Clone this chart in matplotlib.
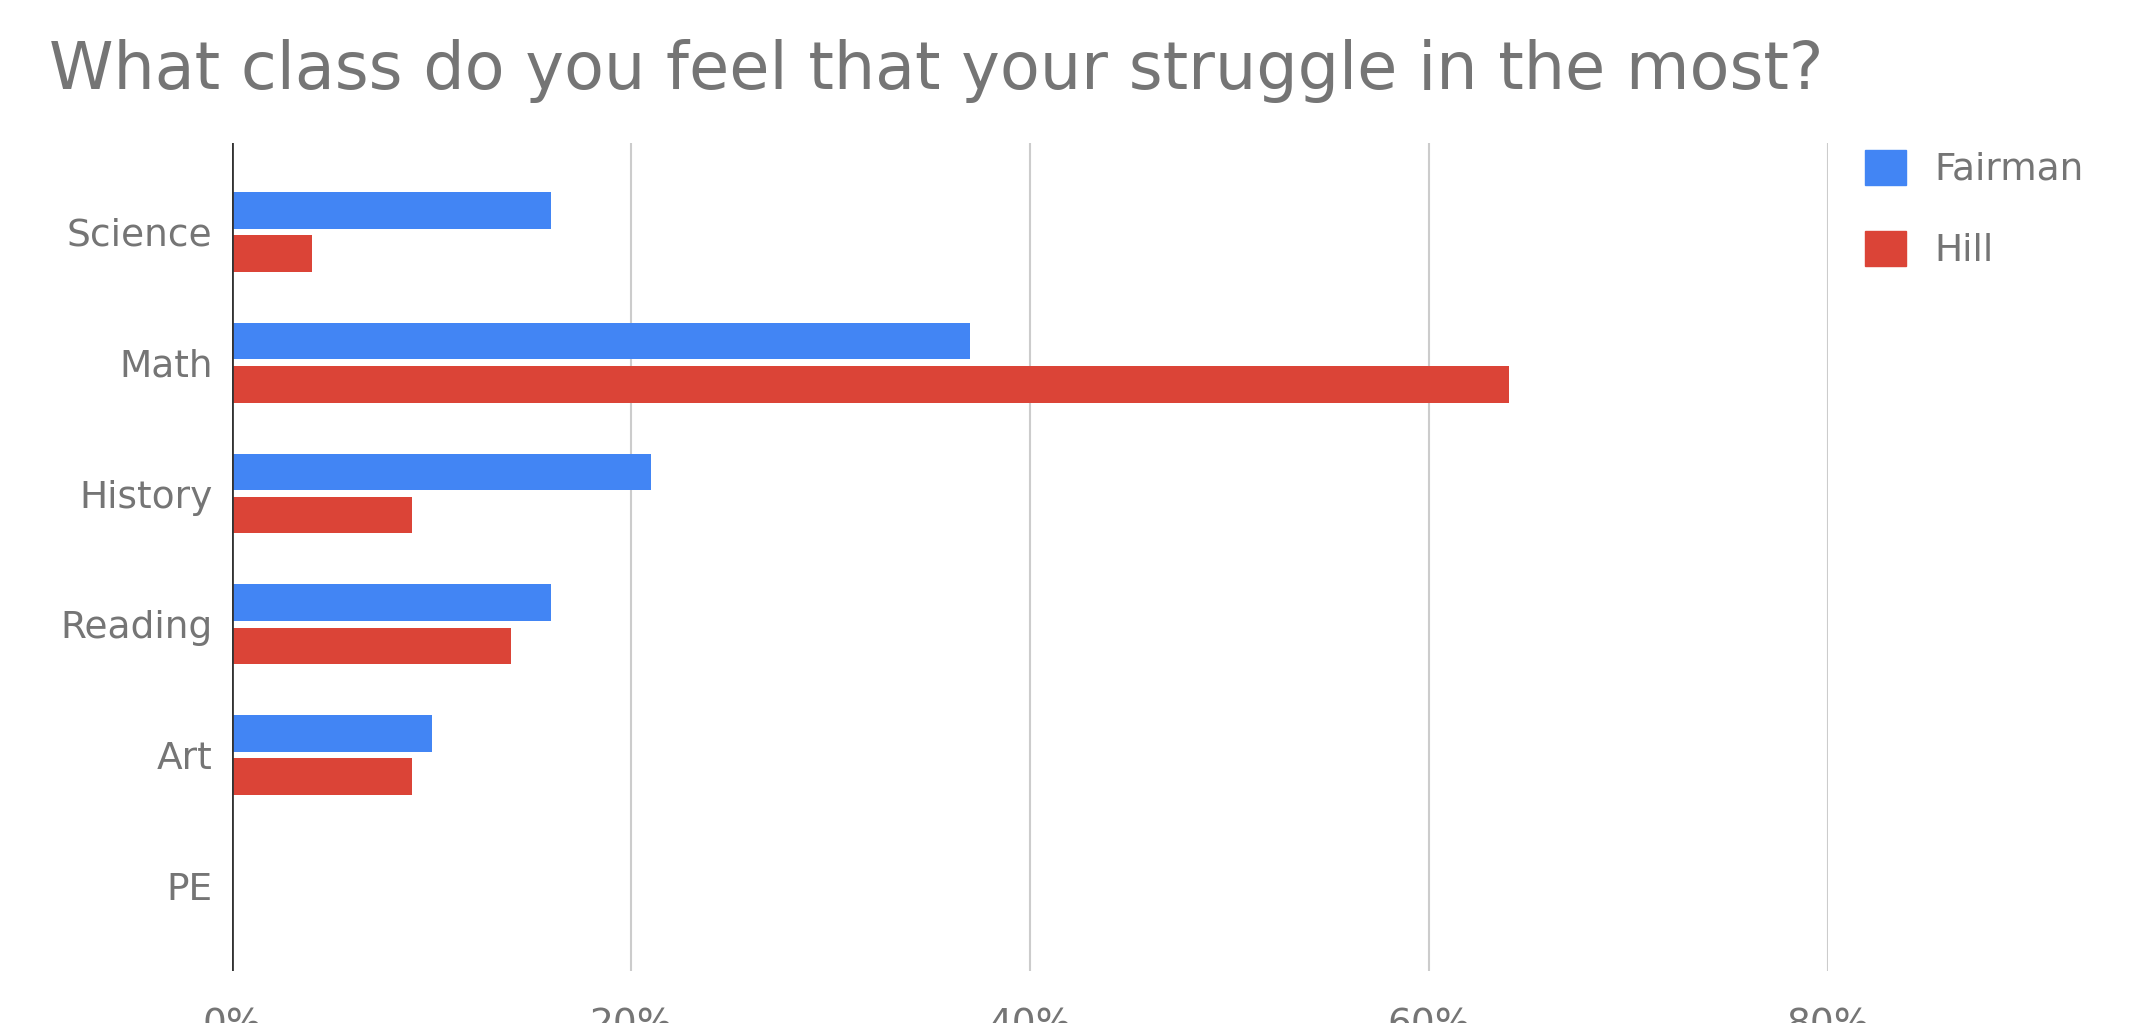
import matplotlib.pyplot as plt
import numpy as np
from matplotlib.patches import Patch

categories = ['Science', 'Math', 'History', 'Reading', 'Art', 'PE']
fairman = [16, 37, 21, 16, 10, 0]
hill = [4, 64, 9, 14, 9, 0]
xticks = [0, 20, 40, 60, 80]
xtick_labels = ['0%', '20%', '40%', '60%', '80%']

blue = '#4285F4'
red = '#DB4437'
grey = '#757575'

plt.rcParams['font.family'] = ['DejaVu Sans']

fig = plt.figure(figsize=(21.39, 10.23), dpi=100)
ax = fig.add_axes([232/2139, 1 - 971/1023, (1828 - 232)/2139, (971 - 143)/1023])

y = np.arange(len(categories))
h = 0.28
ax.barh(y - 0.165, fairman, height=h, color=blue, label='Fairman', zorder=3)
ax.barh(y + 0.165, hill, height=h, color=red, label='Hill', zorder=3)

ax.set_xlim(0, 80)
ax.set_ylim(5.65, -0.68)
ax.set_xticks(xticks)
ax.set_xticklabels(xtick_labels)
ax.set_yticks(y)
ax.set_yticklabels(categories)
ax.tick_params(axis='both', length=0, labelsize=27, colors=grey)
ax.tick_params(axis='x', pad=26)
ax.tick_params(axis='y', pad=14)

for x in xticks[1:]:
    ax.axvline(x, color='#cccccc', lw=1.5, zorder=1)
ax.axvline(0, color='#333333', lw=2, zorder=4)

for s in ax.spines.values():
    s.set_visible(False)

fig.text(49/2139, 1 - 71/1023, 'What class do you feel that your struggle in the most?',
         fontsize=47, color=grey, va='center', ha='left')

handles = [Patch(color=blue, label='Fairman'), Patch(color=red, label='Hill')]
fig.legend(handles=handles, loc='upper left', bbox_to_anchor=(1831/2139, 1 - 116/1023),
           frameon=False, fontsize=27, labelcolor=grey, handlelength=1.1, handleheight=1.05,
           handletextpad=0.75, labelspacing=1.15)

plt.savefig('out.png', dpi=100)
